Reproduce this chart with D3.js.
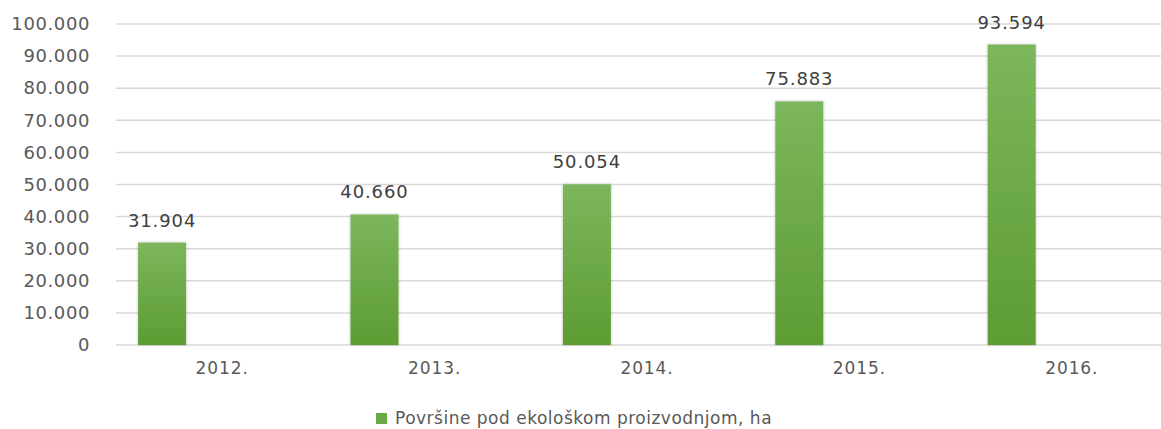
<!DOCTYPE html>
<html>
<head>
<meta charset="utf-8">
<script src="https://cdn.jsdelivr.net/npm/d3@7"></script>
<style>
  body { margin: 0; background: #fff; }
  svg { display: block; }
</style>
</head>
<body>
<script>
const width = 1161;
const height = 429;

const years = ['2012.', '2013.', '2014.', '2015.', '2016.'];
const areaHa = [31904, 40660, 50054, 75883, 93594];
const yTicks = [0, 10000, 20000, 30000, 40000, 50000, 60000, 70000, 80000, 90000, 100000];
const seriesName = 'Površine pod ekološkom proizvodnjom, ha';

const margin = { top: 24, left: 116, bottom: 84 };
const plotRight = 1178; // plot runs past the cropped edge

const fmt = v => d3.format(',')(v).replace(/,/g, '.');

const svg = d3.select('body')
    .append('svg')
    .attr('width', width)
    .attr('height', height);

const defs = svg.append('defs');
const grad = defs.append('linearGradient')
    .attr('id', 'barGrad')
    .attr('x1', 0).attr('y1', 0).attr('x2', 0).attr('y2', 1);
grad.append('stop').attr('offset', '0%').attr('stop-color', '#7cb65c');
grad.append('stop').attr('offset', '100%').attr('stop-color', '#5d9c33');

const shadow = defs.append('filter').attr('id', 'shadow')
    .attr('x', '-20%').attr('y', '-5%').attr('width', '140%').attr('height', '110%');
shadow.append('feDropShadow')
    .attr('dx', 0).attr('dy', 0).attr('stdDeviation', 1.5)
    .attr('flood-color', '#000').attr('flood-opacity', 0.25);

const x = d3.scaleBand()
    .domain(years)
    .range([margin.left, plotRight]);

const y = d3.scaleLinear()
    .domain([0, 100000])
    .range([height - margin.bottom, margin.top]);

// gridlines
svg.append('g')
    .selectAll('line')
    .data(yTicks)
    .enter().append('line')
    .attr('x1', margin.left)
    .attr('x2', plotRight)
    .attr('y1', d => y(d))
    .attr('y2', d => y(d))
    .style('stroke', '#d9d9d9')
    .style('stroke-width', 1.5);

// y axis labels
const yAxis = svg.append('g')
    .attr('transform', `translate(${margin.left},0)`)
    .call(d3.axisLeft(y).tickValues(yTicks).tickFormat(fmt).tickSize(0).tickPadding(26));
yAxis.select('.domain').remove();
yAxis.selectAll('text')
    .style('font-family', 'DejaVu Sans, sans-serif')
    .style('font-size', '18px')
    .style('letter-spacing', '0.6px')
    .style('fill', '#595959');

// x axis labels
const xAxis = svg.append('g')
    .attr('transform', `translate(0,${y(0)})`)
    .call(d3.axisBottom(x).tickSize(0).tickPadding(17));
xAxis.select('.domain').remove();
xAxis.selectAll('text')
    .style('font-family', 'DejaVu Sans, sans-serif')
    .style('font-size', '17px')
    .style('letter-spacing', '0.9px')
    .style('fill', '#595959');

const barOffset = x.bandwidth() * 0.104;
const barWidth = x.bandwidth() * 0.226;

svg.append('g')
    .selectAll('rect')
    .data(areaHa)
    .enter().append('rect')
    .attr('x', (d, i) => x(years[i]) + barOffset)
    .attr('y', d => y(d))
    .attr('width', barWidth)
    .attr('height', d => y(0) - y(d))
    .style('fill', 'url(#barGrad)')
    .attr('filter', 'url(#shadow)');

svg.append('g')
    .selectAll('text')
    .data(areaHa)
    .enter().append('text')
    .attr('x', (d, i) => x(years[i]) + barOffset + barWidth / 2)
    .attr('y', d => y(d) - 16)
    .attr('text-anchor', 'middle')
    .style('font-family', 'DejaVu Sans, sans-serif')
    .style('font-size', '18px')
    .style('letter-spacing', '0.9px')
    .style('fill', '#404040')
    .text(d => fmt(d));

// legend
const legend = svg.append('g').attr('transform', 'translate(376,413)');
legend.append('rect')
    .attr('width', 11)
    .attr('height', 11)
    .style('fill', '#6aaa45');
legend.append('text')
    .attr('x', 19)
    .attr('y', 11)
    .style('font-family', 'DejaVu Sans, sans-serif')
    .style('font-size', '17px')
    .style('letter-spacing', '0.5px')
    .style('fill', '#595959')
    .text(seriesName);
</script>
</body>
</html>
